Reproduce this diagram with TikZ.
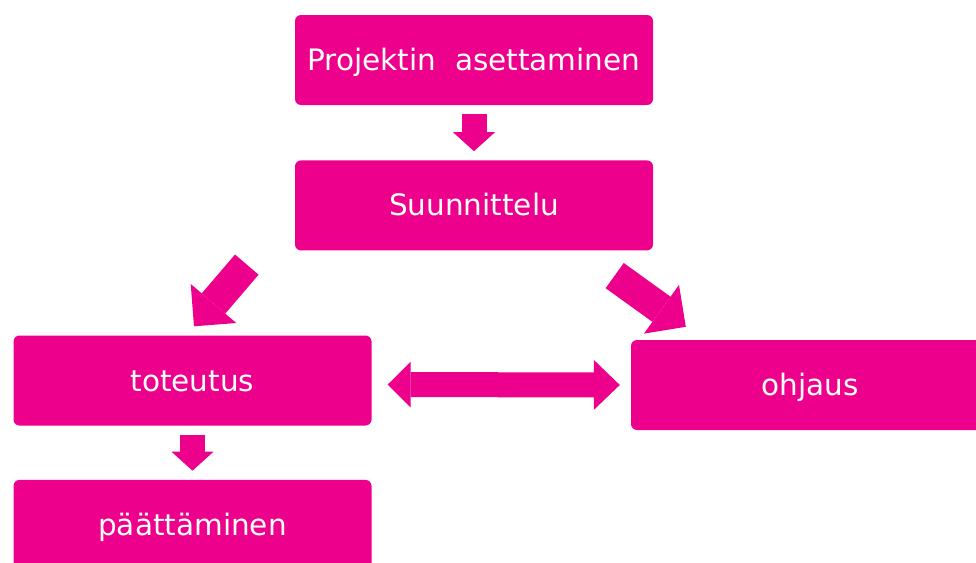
\documentclass[tikz,border=0pt]{standalone}
\usepackage{fontspec}
\setmainfont{DejaVu Sans}
\usepackage{tikz}
\usetikzlibrary{arrows.meta,positioning}

\definecolor{pinkfill}{RGB}{236,0,140}

\begin{document}
\begin{tikzpicture}[
    x=1pt, y=-1pt,
    node distance=55pt and 12pt,
    box/.style={fill=pinkfill, rounded corners=6pt, align=center, minimum width=358pt, minimum height=90pt, text=white, font=\fontsize{29.5}{34}\selectfont, text height=21pt, text depth=0pt, inner sep=0pt},
    blockarrow/.style={draw=pinkfill, line width=25pt, -{Triangle[width=42pt,length=19pt,line width=0pt]}},
    fatarrow/.style={draw=pinkfill, line width=31pt, -{Triangle[width=60pt,length=30pt,line width=0pt]}},
    twoway/.style={draw=pinkfill, line width=25pt, {Triangle[width=46pt,length=23pt,line width=0pt]}-{Triangle[width=50pt,length=26pt,line width=0pt]}}
]
\useasboundingbox (0,0) rectangle (976,562);
\clip (0,0) rectangle (976,562);

% Boxes
\node[box] (proj) at (474,60) {Projektin~ asettaminen};
\node[box, below=of proj] (suun) {Suunnittelu};
\node[box] (tot) at (192.5,380.5) {toteutus};
\node[box] (ohj) at (810,385) {ohjaus};
\node[box, below=54pt of tot] (paat) {päättäminen};

% Arrows
\draw[blockarrow, shorten <=9pt, shorten >=9pt] (proj.south) -- (suun.north);
\draw[blockarrow, shorten <=9pt, shorten >=9pt] (tot.south) -- (paat.north);
\draw[fatarrow] ([xshift=-48pt, yshift=-14pt]suun.south west) -- ([xshift=1.5pt, yshift=9pt]tot.north);
\draw[fatarrow] ([xshift=-38.5pt, yshift=-25pt]suun.south east) -- ([xshift=55pt, yshift=13pt]ohj.north west);
\draw[twoway, shorten <=16pt, shorten >=11pt] ([yshift=-4pt]tot.east) -- (ohj.west);

\end{tikzpicture}
\end{document}
